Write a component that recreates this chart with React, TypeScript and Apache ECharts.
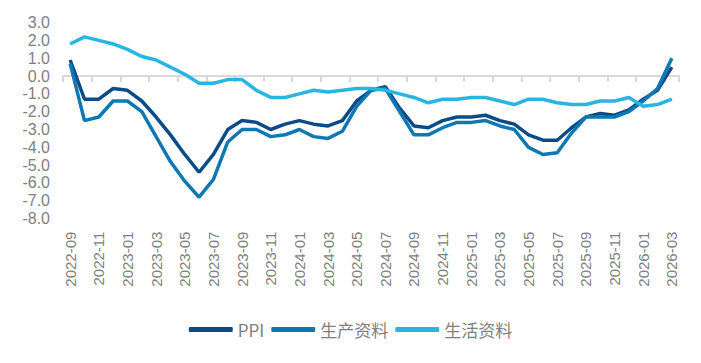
import React, { useEffect, useRef } from "react";
import * as echarts from "echarts";

const months: string[] = [
  "2022-09","2022-10","2022-11","2022-12",
  "2023-01","2023-02","2023-03","2023-04","2023-05","2023-06","2023-07","2023-08","2023-09","2023-10","2023-11","2023-12",
  "2024-01","2024-02","2024-03","2024-04","2024-05","2024-06","2024-07","2024-08","2024-09","2024-10","2024-11","2024-12",
  "2025-01","2025-02","2025-03","2025-04","2025-05","2025-06","2025-07","2025-08","2025-09","2025-10","2025-11","2025-12",
  "2026-01","2026-02","2026-03",
];

const ppi: number[] = [
  0.9, -1.3, -1.3, -0.7, -0.8, -1.4, -2.3, -3.3, -4.4, -5.4, -4.4, -3.0,
  -2.5, -2.6, -3.0, -2.7, -2.5, -2.7, -2.8, -2.5, -1.4, -0.8, -0.6, -1.8,
  -2.8, -2.9, -2.5, -2.3, -2.3, -2.2, -2.5, -2.7, -3.3, -3.6, -3.6, -2.9,
  -2.3, -2.1, -2.2, -1.9, -1.3, -0.8, 0.5,
];

const production: number[] = [
  0.7, -2.5, -2.3, -1.4, -1.4, -2.0, -3.4, -4.8, -5.9, -6.8, -5.8, -3.7,
  -3.0, -3.0, -3.4, -3.3, -3.0, -3.4, -3.5, -3.1, -1.7, -0.8, -0.7, -2.0,
  -3.3, -3.3, -2.9, -2.6, -2.6, -2.5, -2.8, -3.0, -4.0, -4.4, -4.3, -3.2,
  -2.3, -2.3, -2.3, -2.0, -1.4, -0.7, 1.0,
];

const living: number[] = [
  1.8, 2.2, 2.0, 1.8, 1.5, 1.1, 0.9, 0.5, 0.1, -0.4, -0.4, -0.2,
  -0.2, -0.8, -1.2, -1.2, -1.0, -0.8, -0.9, -0.8, -0.7, -0.7, -0.8, -1.0,
  -1.2, -1.5, -1.3, -1.3, -1.2, -1.2, -1.4, -1.6, -1.3, -1.3, -1.5, -1.6,
  -1.6, -1.4, -1.4, -1.2, -1.7, -1.6, -1.3,
];

const seriesNames: string[] = ["PPI", "生产资料", "生活资料"];
const colors: string[] = ["#0B4C88", "#0E78B2", "#28B6E0"];

const labelColor = "#808080";

export default function App() {
  const ref = useRef<HTMLDivElement>(null);

  useEffect(() => {
    if (!ref.current) return;
    const chart = echarts.init(ref.current, null, { renderer: "svg" });
    const dataSets = [ppi, production, living];
    chart.setOption({
      animation: false,
      color: colors,
      grid: { left: 63, right: 22, top: 22.6, height: 196 },
      legend: {
        bottom: 20,
        left: "center",
        icon: "roundRect",
        itemWidth: 44,
        itemHeight: 5,
        itemGap: 7,
        textStyle: {
          color: labelColor,
          fontSize: 17,
          fontFamily: "Noto Sans CJK SC, Noto Sans, sans-serif",
        },
        data: seriesNames,
      },
      xAxis: [
        {
          type: "category",
          data: months,
          boundaryGap: true,
          axisLine: { show: false, onZero: false },
          axisTick: { show: false },
          axisLabel: {
            interval: 1,
            rotate: 90,
            color: labelColor,
            fontSize: 15,
            margin: 13,
            fontFamily: "Liberation Sans, Arial, sans-serif",
          },
          splitLine: { show: false },
        },
        {
          type: "category",
          data: months,
          boundaryGap: true,
          position: "top",
          axisLine: { show: true, onZero: true, lineStyle: { color: "#d9d9d9", width: 2 } },
          axisTick: { show: true, interval: 1, inside: true, length: 6, lineStyle: { color: "#d9d9d9", width: 2 } },
          axisLabel: { show: false },
          splitLine: { show: false },
        },
      ],
      yAxis: {
        type: "value",
        min: -8,
        max: 3,
        interval: 1,
        axisLine: { show: false },
        axisTick: { show: false },
        splitLine: { show: false },
        axisLabel: {
          color: labelColor,
          fontSize: 16,
          margin: 13,
          fontFamily: "Liberation Sans, Arial, sans-serif",
          formatter: (v: number) => v.toFixed(1),
        },
      },
      series: seriesNames.map((name, i) => ({
        name,
        type: "line",
        xAxisIndex: 0,
        data: dataSets[i],
        symbol: "none",
        lineStyle: { width: 3.5, color: colors[i] },
        itemStyle: { color: colors[i] },
      })),
    });
    return () => chart.dispose();
  }, []);

  return (
    <div
      ref={ref}
      style={{ position: "fixed", left: 0, top: 0, width: 701, height: 363, background: "#fff" }}
    />
  );
}
